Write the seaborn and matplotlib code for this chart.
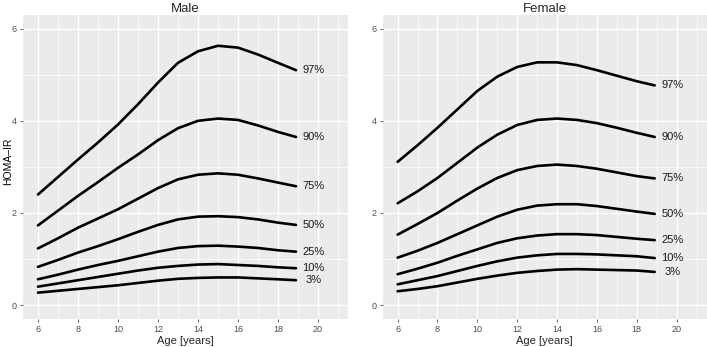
import numpy as np
import pandas as pd
import seaborn as sns
import matplotlib.pyplot as plt
from matplotlib.ticker import MultipleLocator

ages = [6, 7, 8, 9, 10, 11, 12, 13, 14, 15, 16, 17, 18, 18.9]
percentiles = ["3%", "10%", "25%", "50%", "75%", "90%", "97%"]

male_p3 = [0.27, 0.31, 0.35, 0.39, 0.43, 0.48, 0.53, 0.57, 0.59, 0.60, 0.60, 0.58, 0.56, 0.54]
male_p10 = [0.40, 0.47, 0.54, 0.61, 0.68, 0.75, 0.81, 0.85, 0.88, 0.89, 0.87, 0.85, 0.82, 0.80]
male_p25 = [0.56, 0.66, 0.77, 0.87, 0.96, 1.06, 1.16, 1.24, 1.28, 1.29, 1.27, 1.24, 1.19, 1.16]
male_p50 = [0.83, 0.98, 1.14, 1.28, 1.43, 1.59, 1.74, 1.86, 1.92, 1.93, 1.91, 1.86, 1.79, 1.74]
male_p75 = [1.23, 1.45, 1.68, 1.88, 2.08, 2.31, 2.54, 2.73, 2.83, 2.86, 2.83, 2.75, 2.66, 2.58]
male_p90 = [1.73, 2.05, 2.37, 2.67, 2.98, 3.27, 3.58, 3.84, 4.00, 4.05, 4.02, 3.90, 3.76, 3.65]
male_p97 = [2.40, 2.78, 3.16, 3.53, 3.92, 4.36, 4.83, 5.26, 5.51, 5.63, 5.59, 5.44, 5.26, 5.10]

female_p3 = [0.30, 0.35, 0.41, 0.49, 0.57, 0.64, 0.70, 0.74, 0.77, 0.78, 0.77, 0.76, 0.75, 0.72]
female_p10 = [0.45, 0.54, 0.63, 0.74, 0.85, 0.95, 1.03, 1.08, 1.11, 1.11, 1.10, 1.08, 1.06, 1.02]
female_p25 = [0.67, 0.79, 0.92, 1.07, 1.21, 1.35, 1.45, 1.51, 1.54, 1.54, 1.52, 1.48, 1.44, 1.41]
female_p50 = [1.03, 1.18, 1.35, 1.54, 1.73, 1.92, 2.07, 2.16, 2.19, 2.19, 2.15, 2.09, 2.03, 1.98]
female_p75 = [1.53, 1.76, 2.00, 2.27, 2.53, 2.76, 2.93, 3.02, 3.05, 3.02, 2.96, 2.88, 2.80, 2.75]
female_p90 = [2.21, 2.47, 2.76, 3.09, 3.42, 3.70, 3.91, 4.02, 4.05, 4.02, 3.95, 3.85, 3.74, 3.65]
female_p97 = [3.11, 3.47, 3.85, 4.25, 4.65, 4.96, 5.17, 5.27, 5.27, 5.21, 5.10, 4.98, 4.86, 4.77]

male = [male_p3, male_p10, male_p25, male_p50, male_p75, male_p90, male_p97]
female = [female_p3, female_p10, female_p25, female_p50, female_p75, female_p90, female_p97]


def to_long(curves):
    rows = []
    for pct, vals in zip(percentiles, curves):
        for a, v in zip(ages, vals):
            rows.append({"age": a, "value": v, "pct": pct})
    return pd.DataFrame(rows)


sns.set_theme(style="darkgrid", rc={
    "axes.facecolor": "#EBEBEB",
    "grid.color": "white",
    "axes.edgecolor": "none",
    "xtick.color": "#4D4D4D",
    "ytick.color": "#4D4D4D",
    "xtick.bottom": True,
    "ytick.left": True,
    "xtick.major.size": 2.5,
    "ytick.major.size": 2.5,
    "xtick.minor.size": 0,
    "ytick.minor.size": 0,
    "xtick.major.width": 0.6,
    "ytick.major.width": 0.6,
    "xtick.major.pad": 2,
    "ytick.major.pad": 2,
})
plt.rcParams['font.family'] = ['Liberation Sans', 'DejaVu Sans']

fig = plt.figure(figsize=(7.07, 3.47), dpi=100)
ax_m = fig.add_axes([0.0325, 0.081, 0.4597, 0.876])
ax_f = fig.add_axes([0.5413, 0.081, 0.458, 0.876])

for ax, curves, title in [(ax_m, male, "Male"), (ax_f, female, "Female")]:
    df = to_long(curves)
    sns.lineplot(data=df, x="age", y="value", units="pct", estimator=None,
                 color="black", linewidth=1.9, ax=ax, legend=False)
    for pct, vals in zip(percentiles, curves):
        ax.text(19.78, vals[-1], pct, ha="center", va="center", fontsize=8,
                color="#1A1A1A")
    ax.set_xlim(5.25, 21.5)
    ax.set_ylim(-0.3, 6.3)
    ax.xaxis.set_major_locator(MultipleLocator(2))
    ax.xaxis.set_minor_locator(MultipleLocator(1))
    ax.yaxis.set_major_locator(MultipleLocator(2))
    ax.yaxis.set_minor_locator(MultipleLocator(1))
    ax.grid(which="major", color="white", linewidth=1.0)
    ax.grid(which="minor", color="white", linewidth=0.5)
    ax.tick_params(which="major", labelsize=6.5)
    ax.tick_params(which="minor", length=0)
    ax.set_title(title, fontsize=9.5, pad=2)
    ax.set_xlabel("Age [years]", fontsize=8, labelpad=1)
    ax.set_ylabel("")

fig.text(0.011, 0.535, "HOMA\u2013IR", rotation=90, ha="center", va="center",
         fontsize=7.5, color="black")

fig.savefig("out.png", dpi=100)
